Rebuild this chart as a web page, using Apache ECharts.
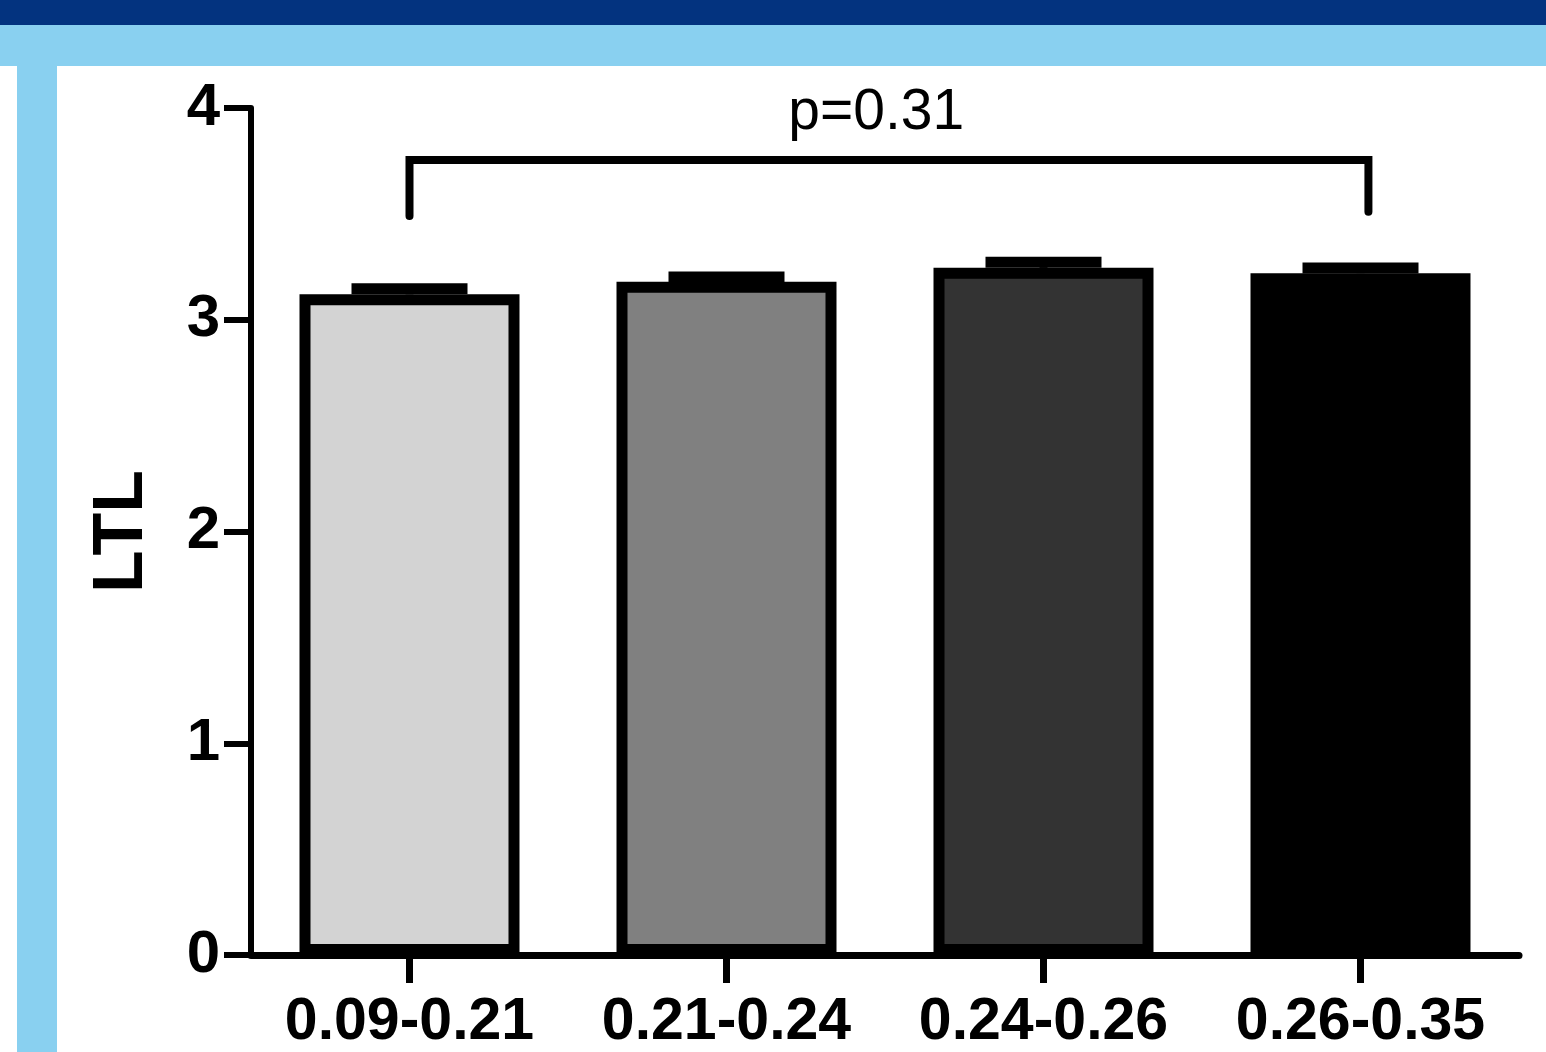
<!DOCTYPE html>
<html>
<head>
<meta charset="utf-8">
<script src="https://cdn.jsdelivr.net/npm/echarts@6/dist/echarts.min.js"></script>
<style>
html,body{margin:0;padding:0;background:#fff;}
#chart{width:1546px;height:1052px;}
</style>
</head>
<body>
<div id="chart"></div>
<script>
var categories = ['0.09-0.21', '0.21-0.24', '0.24-0.26', '0.26-0.35'];
var ltlMeans = [3.12, 3.18, 3.245, 3.22];
var ltlErrors = [0.026, 0.022, 0.027, 0.024];
var barColors = ['#d3d3d3', '#808080', '#333333', '#000000'];
var yTicks = [0, 1, 2, 3, 4];
var pLabel = 'p=0.31';
var bracketFrom = 0, bracketTo = 3.025, bracketY = 3.755, bracketFootLeft = 3.49, bracketFootRight = 3.51;

var FONT = '"Liberation Sans", Arial, Helvetica, sans-serif';

var chart = echarts.init(document.getElementById('chart'), null, {renderer: 'canvas'});

var barData = ltlMeans.map(function (v, i) {
  return {value: v, itemStyle: {color: barColors[i]}};
});
var errData = ltlMeans.map(function (v, i) { return [i, v, ltlErrors[i]]; });

var option = {
  backgroundColor: '#ffffff',
  animation: false,
  graphic: [
    {type: 'rect', z: -10, shape: {x: 0, y: 0, width: 1546, height: 25}, style: {fill: '#03337f'}},
    {type: 'rect', z: -10, shape: {x: 0, y: 25, width: 1546, height: 41}, style: {fill: '#89d0f0'}},
    {type: 'rect', z: -10, shape: {x: 17, y: 66, width: 40, height: 986}, style: {fill: '#89d0f0'}}
  ],
  grid: {left: 251, right: 27, top: 108, bottom: 97, containLabel: false},
  xAxis: [
    {
      type: 'category',
      data: categories,
      axisLine: {show: true, onZero: false, lineStyle: {color: '#000', width: 7}},
      axisTick: {show: true, alignWithLabel: true, length: 28, lineStyle: {color: '#000', width: 7}},
      axisLabel: {color: '#000', fontFamily: FONT, fontWeight: 'bold', fontSize: 59, margin: 38, interval: 0}
    },
    {
      type: 'value', min: -0.5, max: 3.5, show: false
    }
  ],
  yAxis: {
    type: 'value',
    min: yTicks[0],
    max: yTicks[yTicks.length - 1],
    interval: 1,
    name: 'LTL',
    nameLocation: 'middle',
    nameGap: 93,
    nameRotate: 90,
    nameTextStyle: {color: '#000', fontFamily: FONT, fontWeight: 'bold', fontSize: 70},
    axisLine: {show: true, onZero: false, lineStyle: {color: '#000', width: 6}},
    axisTick: {show: true, length: 27, lineStyle: {color: '#000', width: 6}},
    axisLabel: {color: '#000', fontFamily: FONT, fontWeight: 'bold', fontSize: 60, margin: 31},
    splitLine: {show: false}
  },
  series: [
    {
      type: 'bar',
      data: barData,
      barWidth: '69.4%',
      itemStyle: {borderColor: '#000', borderWidth: 11},
      z: 2
    },
    {
      type: 'custom',
      data: errData,
      z: 3,
      renderItem: function (params, api) {
        var i = api.value(0), v = api.value(1), e = api.value(2);
        var base = api.coord([i, v]);
        var top = api.coord([i, v + e]);
        var half = 58;
        return {
          type: 'group',
          children: [
            {type: 'line', shape: {x1: top[0], y1: base[1], x2: top[0], y2: top[1]}, style: {stroke: '#000', lineWidth: 8}},
            {type: 'line', shape: {x1: top[0] - half, y1: top[1], x2: top[0] + half, y2: top[1]}, style: {stroke: '#000', lineWidth: 11}}
          ]
        };
      }
    },
    {
      type: 'line',
      xAxisIndex: 1,
      data: [[bracketFrom, bracketFootLeft], [bracketFrom, bracketY], [bracketTo, bracketY], [bracketTo, bracketFootRight]],
      symbol: 'none',
      lineStyle: {color: '#000', width: 8, join: 'miter', cap: 'round'},
      z: 4
    },
    {
      type: 'scatter',
      xAxisIndex: 1,
      data: [[(bracketFrom + bracketTo) / 2 - 0.04, bracketY]],
      symbolSize: 0,
      itemStyle: {opacity: 1, color: '#000'},
      label: {
        show: true, position: 'top', distance: 18,
        formatter: pLabel,
        color: '#000', fontFamily: FONT, fontSize: 57
      },
      z: 5
    }
  ]
};
chart.setOption(option);
</script>
</body>
</html>
